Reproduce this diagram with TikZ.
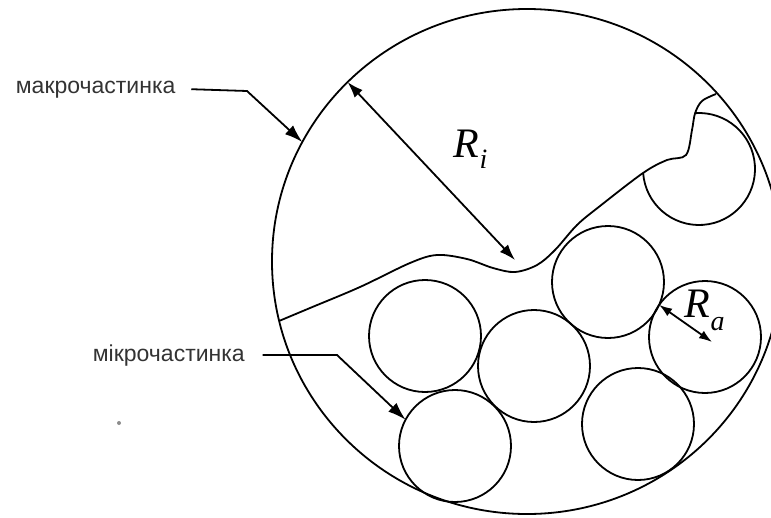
\documentclass[tikz,border=0pt]{standalone}
\usepackage{fontspec}
\setmainfont{Liberation Serif}
\newfontfamily\labfont{Liberation Sans}
\usetikzlibrary{shapes.geometric,arrows.meta}
\begin{document}
\begin{tikzpicture}[x=1pt,y=-1pt, line width=1.8pt,
  ball/.style={circle, draw, minimum size=112pt, inner sep=0pt, outer sep=0pt},
  hidden ball/.style={circle, minimum size=112pt, inner sep=0pt, outer sep=0pt},
  lab/.style={font=\labfont\fontsize{23}{23}\selectfont, text=black!80, inner sep=0pt},
  tip/.style={-{Latex[length=18pt,width=12pt]}},
  dtip/.style={{Latex[length=16pt,width=11pt]}-{Latex[length=16pt,width=11pt]}},
  stip/.style={{Latex[length=13pt,width=9pt]}-{Latex[length=13pt,width=9pt]}},
  sym/.style={font=\fontsize{42}{42}\selectfont\itshape, inner sep=0pt}]
\useasboundingbox (0,0) rectangle (771,517);
% macroparticle
\node[ellipse, draw, minimum width=510pt, minimum height=505pt, inner sep=0pt, outer sep=0pt] (macro) at (527,261.5) {};
% microparticles
\node[hidden ball] (c1) at (699,169) {};
\draw (c1.184) arc[start angle=184, end angle=454, radius=56pt];
\node[ball] (c2) at (425,336) {};
\node[ball] (c3) at (534,366) {};
\node[ball] (c4) at (608,282) {};
\node[ball] (c5) at (705,337) {};
\node[ball] (c6) at (638,424) {};
\node[ball] (c7) at (455,446) {};
% boundary
\draw plot[smooth, tension=0.55] coordinates {(279,321) (310,308) (360,287) (410,263) (437,255) (467,259) (493,268) (515,272) (537,265) (555,250) (577,225) (600,206) (c1.184) (667,160) (686,155) (692,130) (c1.94) (702,101) (716,94)};
% labels
\node[lab, anchor=base west] (mlab) at (15,93) {макрочастинка};
\coordinate (mk) at (247,91);
\draw[tip] ([xshift=15pt]mlab.east) -- (mk) -- (macro.152);
\node[lab, anchor=base west] (ulab) at (92,361) {мікрочастинка};
\coordinate (uk) at (337,355);
\draw[tip] ([xshift=17pt]ulab.east) -- (uk) -- (c7.152);
% R_i
\coordinate (rib) at (515,260);
\draw[dtip] (macro.135) -- (rib);
\node[sym, anchor=base west] (ri) at (453,157) {R\raisebox{-11pt}{\fontsize{28}{28}\selectfont i}};
% R_a
\coordinate (rae) at (712,342);
\draw[stip] (c5.145) -- (rae);
\node[sym, anchor=base west] (ra) at (684,317) {R\raisebox{-13pt}{\fontsize{28}{28}\selectfont a}};
% stray dot
\node[circle, fill=black!45, minimum size=4pt, inner sep=0pt] (dot) at (119,423) {};
\end{tikzpicture}
\end{document}
